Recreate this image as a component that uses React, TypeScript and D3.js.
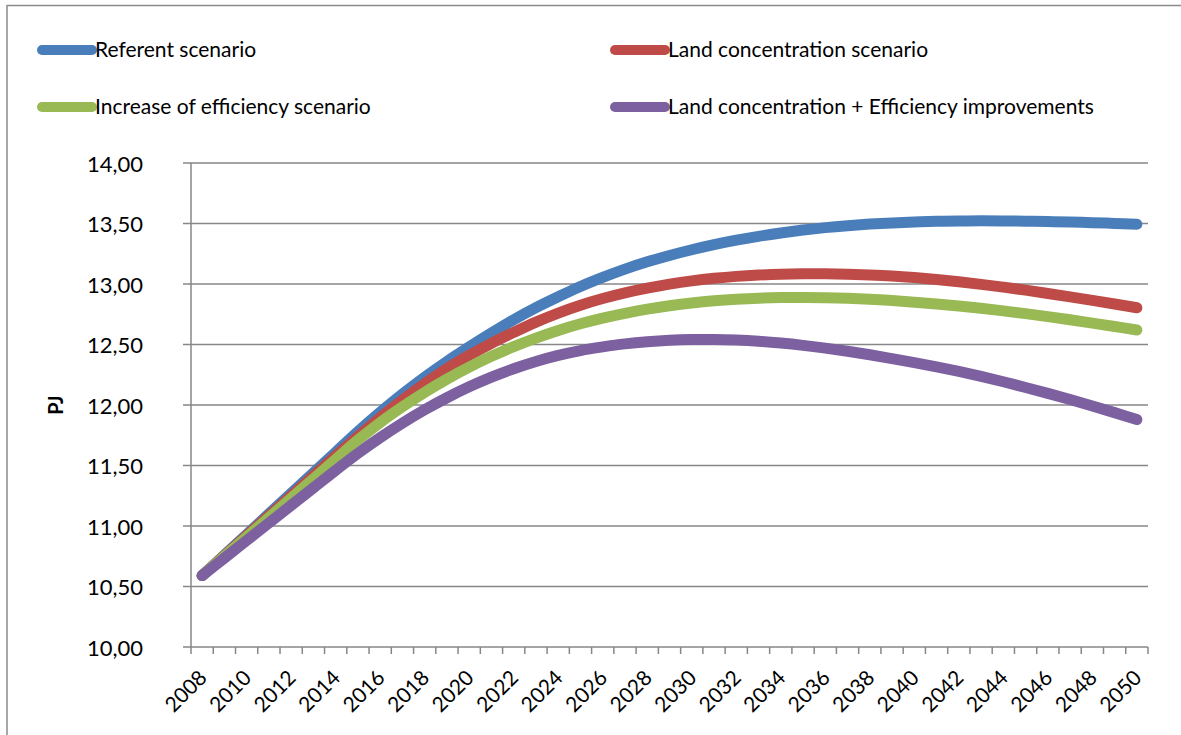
import React from "react";
import * as d3 from "d3";

const years: number[] = d3.range(2008, 2051);
const referent: number[] = [
  10.59, 10.76, 10.93, 11.10, 11.27, 11.44, 11.61, 11.78, 11.94, 12.09,
  12.23, 12.36, 12.48, 12.595, 12.705, 12.805, 12.895, 12.98, 13.055, 13.123,
  13.183, 13.236, 13.283, 13.325, 13.362, 13.394, 13.422, 13.446, 13.466, 13.482,
  13.495, 13.505, 13.513, 13.518, 13.521, 13.522, 13.521, 13.519, 13.516, 13.512,
  13.507, 13.501, 13.494,
];
const landConc: number[] = [
  10.59, 10.755, 10.92, 11.085, 11.25, 11.415, 11.58, 11.74, 11.895, 12.04,
  12.175, 12.30, 12.41, 12.51, 12.60, 12.685, 12.76, 12.825, 12.88, 12.927,
  12.966, 12.999, 13.026, 13.047, 13.063, 13.074, 13.081, 13.084, 13.084, 13.081,
  13.075, 13.066, 13.053, 13.037, 13.018, 12.997, 12.974, 12.949, 12.922, 12.894,
  12.865, 12.835, 12.804,
];
const efficiency: number[] = [
  10.59, 10.75, 10.91, 11.07, 11.23, 11.39, 11.55, 11.71, 11.855, 11.985,
  12.105, 12.214, 12.313, 12.402, 12.482, 12.553, 12.616, 12.671, 12.718, 12.758,
  12.792, 12.82, 12.843, 12.861, 12.874, 12.883, 12.888, 12.889, 12.887, 12.882,
  12.874, 12.863, 12.85, 12.835, 12.818, 12.799, 12.778, 12.755, 12.73, 12.704,
  12.677, 12.649, 12.62,
];
const combined: number[] = [
  10.59, 10.735, 10.88, 11.025, 11.17, 11.315, 11.46, 11.60, 11.73, 11.85,
  11.96, 12.06, 12.15, 12.23, 12.30, 12.36, 12.41, 12.45, 12.48, 12.505,
  12.523, 12.535, 12.541, 12.542, 12.537, 12.527, 12.512, 12.493, 12.47, 12.444,
  12.415, 12.383, 12.35, 12.315, 12.277, 12.236, 12.192, 12.145, 12.096, 12.045,
  11.992, 11.937, 11.88,
];
const seriesNames: string[] = [
  "Referent scenario",
  "Land concentration scenario",
  "Increase of efficiency scenario",
  "Land concentration + Efficiency improvements",
];
const seriesColors: string[] = ["#4A7EBB", "#BE4B48", "#98B954", "#7D60A0"];
const seriesValues: number[][] = [referent, landConc, efficiency, combined];
const yTicks: number[] = [10, 10.5, 11, 11.5, 12, 12.5, 13, 13.5, 14];
const xLabelYears: number[] = years.filter((y) => y % 2 === 0);
const yTitle = "PJ";

const W = 1181;
const H = 735;
const FONT = "Lato, 'Open Sans', sans-serif";

export default function App() {
  const x = d3.scaleBand<number>().domain(years).range([191, 1148]).padding(0);
  const bw = x.bandwidth();
  const cx = (yr: number) => (x(yr) as number) + bw / 2;
  const y = d3.scaleLinear().domain([10, 14]).range([647, 163]);
  const line = d3
    .line<number>()
    .x((_, i) => cx(years[i]))
    .y((d) => y(d))
    .curve(d3.curveCatmullRom.alpha(0.5));

  const gridColor = "#878787";
  const tickBounds = years.map((yr) => x(yr) as number).concat([1148]);

  const legendPos = [
    { x: 42, y: 50 },
    { x: 615, y: 50 },
    { x: 42, y: 107 },
    { x: 615, y: 107 },
  ];

  return (
    <div style={{ position: "absolute", left: 0, top: 0 }}>
      <svg width={W} height={H} style={{ display: "block", background: "#fff" }}>
        <line x1={7} x2={W} y1={5.5} y2={5.5} stroke="#8a8a8a" strokeWidth={1.5} />
        <line x1={7} x2={7} y1={5} y2={H} stroke="#8a8a8a" strokeWidth={1.5} />
        {yTicks.map((t) => (
          <g key={t}>
            <line x1={183} x2={1148} y1={y(t)} y2={y(t)} stroke={gridColor} strokeWidth={1.5} />
            <text
              x={143}
              y={y(t)}
              textAnchor="end"
              dominantBaseline="central"
              fontFamily={FONT}
              fontSize={22}
              fill="#000"
            >
              {t.toFixed(2).replace(".", ",")}
            </text>
          </g>
        ))}
        <line x1={191} x2={191} y1={163} y2={647} stroke={gridColor} strokeWidth={1.5} />
        {tickBounds.map((tx, i) => (
          <line key={i} x1={tx} x2={tx} y1={647} y2={654} stroke={gridColor} strokeWidth={1.5} />
        ))}
        {xLabelYears.map((yr) => (
          <text
            key={yr}
            transform={`translate(${cx(yr)},${673}) rotate(-45)`}
            textAnchor="end"
            dominantBaseline="central"
            fontFamily={FONT}
            fontSize={21}
            fill="#000"
          >
            {yr}
          </text>
        ))}
        <text
          transform={`translate(55,405) rotate(-90)`}
          textAnchor="middle"
          dominantBaseline="central"
          fontFamily={FONT}
          fontWeight="bold"
          fontSize={20}
          fill="#000"
        >
          {yTitle}
        </text>
        {seriesValues.map((vals, i) => (
          <path
            key={i}
            d={line(vals) as string}
            fill="none"
            stroke={seriesColors[i]}
            strokeWidth={11}
            strokeLinecap="round"
            strokeLinejoin="round"
          />
        ))}
        {seriesNames.map((name, i) => (
          <g key={name}>
            <line
              x1={legendPos[i].x}
              x2={legendPos[i].x + 50}
              y1={legendPos[i].y}
              y2={legendPos[i].y}
              stroke={seriesColors[i]}
              strokeWidth={10}
              strokeLinecap="round"
            />
            <text
              x={legendPos[i].x + 53}
              y={legendPos[i].y + 7}
              fontFamily={FONT}
              fontSize={21}
              fill="#000"
            >
              {name}
            </text>
          </g>
        ))}
      </svg>
    </div>
  );
}
